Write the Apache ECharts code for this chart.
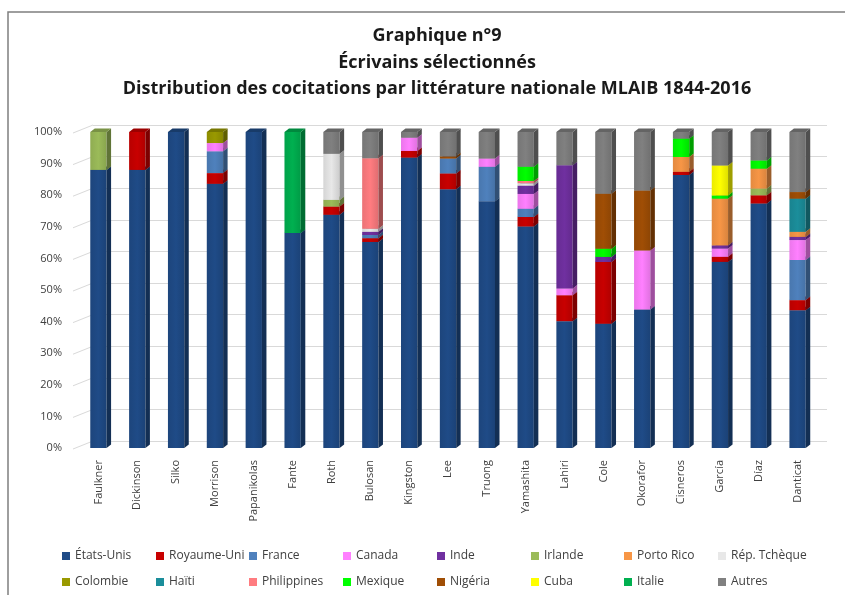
<!DOCTYPE html>
<html>
<head>
<meta charset="utf-8">
<script src="https://cdn.jsdelivr.net/npm/echarts@6/dist/echarts.min.js"></script>
<style>html,body{margin:0;padding:0;background:#fff}#c{width:845px;height:595px}</style>
</head>
<body>
<div id="c"></div>
<script>
const categories = ['Faulkner','Dickinson','Silko','Morrison','Papanikolas','Fante','Roth','Bulosan','Kingston','Lee','Truong','Yamashita','Lahiri','Cole','Okorafor','Cisneros','García','Díaz','Danticat'];
const yTicks = [0,10,20,30,40,50,60,70,80,90,100];

const etatsUnis   = [88, 88, 100, 83.6, 100, 68, 73.8, 65.2, 91.9, 81.8, 78, 70.1, 40.1, 39.3, 43.9, 86.3, 58.9, 77.3, 43.6];
const royaumeUni  = [0, 12, 0, 3.4, 0, 0, 2.6, 1.2, 2.1, 5, 0, 3, 8.2, 19.5, 0, 1, 1.6, 2.6, 3.2];
const france      = [0, 0, 0, 6.9, 0, 0, 0, 1, 0, 4.7, 10.9, 2.6, 0, 0, 0, 0, 0, 0, 12.7];
const canada      = [0, 0, 0, 2.6, 0, 0, 0, 0, 4.2, 0, 2.6, 4.7, 2.1, 0, 18.7, 0, 2.6, 0, 6.3];
const inde        = [0, 0, 0, 0, 0, 0, 0, 1, 0, 0, 0, 2.6, 39, 1.6, 0, 0, 1, 0, 1];
const irlande     = [12, 0, 0, 0, 0, 0, 2.1, 0, 0, 0, 0, 0, 0, 0, 0, 0, 0, 2.1, 0];
const portoRico   = [0, 0, 0, 0, 0, 0, 0, 0, 0, 0, 0, 0, 0, 0, 0, 4.7, 14.8, 6.3, 1.6];
const repTcheque  = [0, 0, 0, 0, 0, 0, 14.6, 1, 0, 0, 0, 0.8, 0, 0, 0, 0, 0, 0, 0];
const colombie    = [0, 0, 0, 3.5, 0, 0, 0, 0, 0, 0, 0, 0, 0, 0, 0, 0, 0, 0, 0];
const haiti       = [0, 0, 0, 0, 0, 0, 0, 0, 0, 0, 0, 0, 0, 0, 0, 0, 0, 0, 10.5];
const philippines = [0, 0, 0, 0, 0, 0, 0, 22.3, 0, 0, 0, 0.7, 0, 0, 0, 0, 0, 0, 0];
const mexique     = [0, 0, 0, 0, 0, 0, 0, 0, 0, 0, 0, 4.5, 0, 2.6, 0, 5.8, 1, 2.6, 0];
const nigeria     = [0, 0, 0, 0, 0, 0, 0, 0, 0, 0.7, 0, 0, 0, 17.4, 19, 0, 0, 0, 2.1];
const cuba        = [0, 0, 0, 0, 0, 0, 0, 0, 0, 0, 0, 0, 0, 0, 0, 0, 9.5, 0, 0];
const italie      = [0, 0, 0, 0, 0, 32, 0, 0, 0, 0, 0, 0, 0, 0, 0, 0, 0, 0, 0];
const autres      = [0, 0, 0, 0, 0, 0, 6.9, 8.3, 1.8, 7.7, 8.4, 11, 10.5, 19.5, 18.5, 2.1, 10.6, 9, 19];

const seriesNames = ['États-Unis','Royaume-Uni','France','Canada','Inde','Irlande','Porto Rico','Rép. Tchèque','Colombie','Haïti','Philippines','Mexique','Nigéria','Cuba','Italie','Autres'];
const seriesValues = [etatsUnis, royaumeUni, france, canada, inde, irlande, portoRico, repTcheque, colombie, haiti, philippines, mexique, nigeria, cuba, italie, autres];
const seriesColors = ['#1F4B87','#C80000','#4F81BD','#FF80FF','#7030A0','#9BBB59','#F79646','#E8E8E8','#999900','#1B8E9B','#FF7C80','#00FF00','#A04E05','#FFFF00','#00B050','#808080'];

function shade(hex, f) {
  const n = parseInt(hex.slice(1), 16);
  let r = (n >> 16) & 255, g = (n >> 8) & 255, b = n & 255;
  r = Math.round(r * f); g = Math.round(g * f); b = Math.round(b * f);
  return 'rgb(' + r + ',' + g + ',' + b + ')';
}

const totals = categories.map((c, i) => seriesValues.reduce((s, arr) => s + arr[i], 0));
const cum = categories.map(() => 0);
const DX = 4.5, DY = 3.5;

const series = seriesNames.map((name, si) => {
  const data = categories.map((c, i) => {
    const v = seriesValues[si][i] / totals[i] * 100;
    const start = cum[i];
    cum[i] += v;
    return [i, start, cum[i]];
  });
  const col = seriesColors[si];
  return {
    name: name,
    type: 'custom',
    xAxisIndex: 0, yAxisIndex: 0,
    itemStyle: { color: col },
    encode: { x: 0, y: [1, 2] },
    data: data,
    renderItem: function (params, api) {
      const i = api.value(0), y0 = api.value(1), y1 = api.value(2);
      if (y1 - y0 <= 0.0001) return null;
      const p0 = api.coord([i, y0]);
      const p1 = api.coord([i, y1]);
      const bw = api.size([1, 0])[0] * 0.42;
      const x = p0[0] - bw / 2;
      const yb = p0[1], yt = p1[1];
      return {
        type: 'group',
        children: [
          { type: 'rect', shape: { x: x, y: yt, width: bw, height: yb - yt },
            style: { fill: new echarts.graphic.LinearGradient(0, 0, 1, 0, [
              { offset: 0, color: shade(col, 0.92) },
              { offset: 0.5, color: col },
              { offset: 1, color: shade(col, 0.88) }]) } },
          { type: 'polygon', shape: { points: [[x + bw, yt], [x + bw + DX, yt - DY], [x + bw + DX, yb - DY], [x + bw, yb]] },
            style: { fill: shade(col, 0.62) } },
          { type: 'polygon', shape: { points: [[x, yt], [x + DX, yt - DY], [x + bw + DX, yt - DY], [x + bw, yt]] },
            style: { fill: shade(col, 0.78) } }
        ]
      };
    }
  };
});

series.push({
  type: 'custom',
  name: '_wall',
  xAxisIndex: 1, yAxisIndex: 1,
  silent: true,
  z: 0,
  data: yTicks.map(v => [0, v]),
  renderItem: function (params, api) {
    const p = api.coord([0, api.value(1)]);
    return { type: 'line', shape: { x1: p[0] - 20, y1: p[1] + 8, x2: p[0], y2: p[1] },
      style: { stroke: '#D9D9D9', lineWidth: 1 } };
  }
});

// legend: one component per entry, 8 columns x 2 rows
const legends = seriesNames.map((name, k) => ({
  icon: 'rect', itemWidth: 8, itemHeight: 8, selectedMode: false,
  left: Math.round(57 + (k % 8) * 93.7), top: k < 8 ? 545 : 571,
  textStyle: { fontFamily: 'Open Sans', fontSize: 12, color: '#404040' },
  data: [name]
}));

const option = {
  backgroundColor: '#fff',
  animation: false,
  title: {
    text: 'Graphique n°9\nÉcrivains sélectionnés\nDistribution des cocitations par littérature nationale MLAIB 1844-2016',
    left: 432, top: 18, textAlign: 'center',
    textStyle: { fontFamily: 'Open Sans', fontWeight: 'bold', fontSize: 18, lineHeight: 26.5, color: '#1a1a1a' }
  },
  graphic: [{ type: 'rect', shape: { x: 8, y: 12, width: 900, height: 700 },
    style: { fill: 'none', stroke: '#7f7f7f', lineWidth: 1.5 }, silent: true, z: -10 }],
  legend: legends,
  grid: [
    { left: 79, right: 28, top: 132, height: 316 },
    { left: 93, right: 18, top: 125, height: 316 }
  ],
  xAxis: [
    { type: 'category', gridIndex: 0, data: categories,
      axisLine: { show: false }, axisTick: { show: false },
      axisLabel: { rotate: 90, margin: 12, fontFamily: 'Open Sans', fontSize: 11, color: '#404040', interval: 0 } },
    { type: 'value', gridIndex: 1, min: 0, max: 1, show: false }
  ],
  yAxis: [
    { type: 'value', gridIndex: 0, min: 0, max: 100, interval: 10,
      axisLabel: { formatter: '{value}%', margin: 17, fontFamily: 'Open Sans', fontSize: 11, color: '#404040' },
      axisLine: { show: false }, axisTick: { show: false }, splitLine: { show: false } },
    { type: 'value', gridIndex: 1, min: 0, max: 100, interval: 10,
      axisLabel: { show: false }, axisLine: { show: false }, axisTick: { show: false },
      splitLine: { show: true, lineStyle: { color: '#D9D9D9', width: 1 } } }
  ],
  series: series
};

const chart = echarts.init(document.getElementById('c'), null, { renderer: 'canvas' });
chart.setOption(option);
</script>
</body>
</html>
